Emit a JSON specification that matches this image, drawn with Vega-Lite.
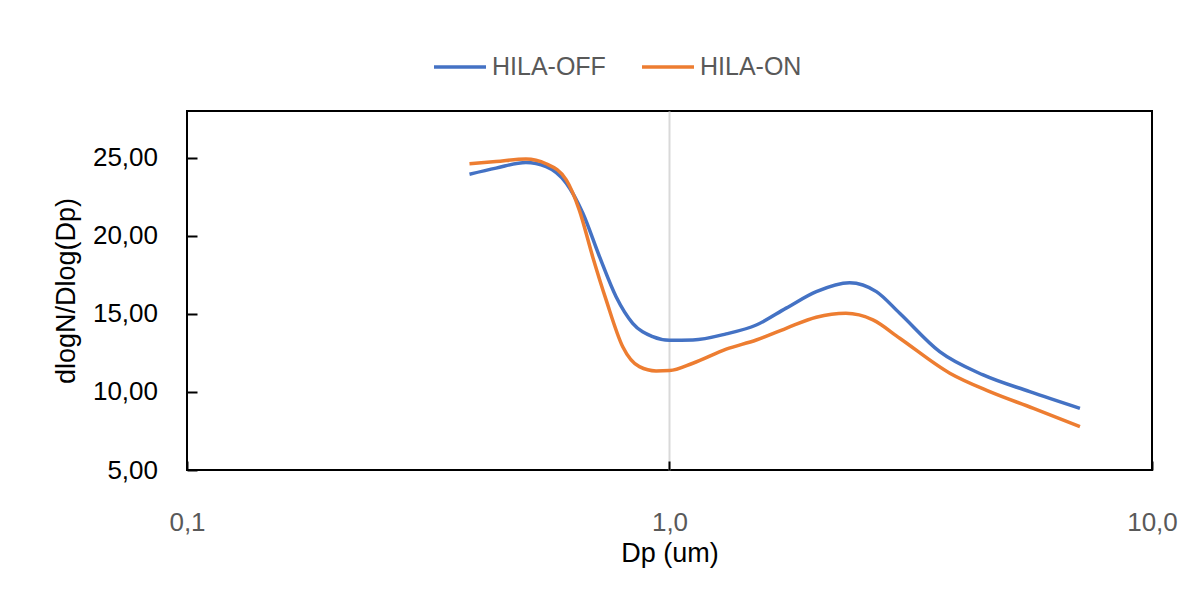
{
  "$schema": "https://vega.github.io/schema/vega-lite/v6.json",
  "autosize": {"type": "none"},
  "width": 965,
  "height": 359,
  "padding": {"left": 187, "top": 111, "right": 29, "bottom": 133},
  "background": "white",
  "config": {"view": {"stroke": "black", "strokeWidth": 2}, "font": "Liberation Sans"},
  "data": {"values": [
    {"series": "HILA-OFF", "dp": 0.385, "val": 23.95},
    {"series": "HILA-OFF", "dp": 0.437, "val": 24.34},
    {"series": "HILA-OFF", "dp": 0.504, "val": 24.70},
    {"series": "HILA-OFF", "dp": 0.555, "val": 24.44},
    {"series": "HILA-OFF", "dp": 0.611, "val": 23.38},
    {"series": "HILA-OFF", "dp": 0.661, "val": 21.46},
    {"series": "HILA-OFF", "dp": 0.716, "val": 18.67},
    {"series": "HILA-OFF", "dp": 0.775, "val": 16.10},
    {"series": "HILA-OFF", "dp": 0.839, "val": 14.40},
    {"series": "HILA-OFF", "dp": 0.923, "val": 13.54},
    {"series": "HILA-OFF", "dp": 1.0, "val": 13.31},
    {"series": "HILA-OFF", "dp": 1.118, "val": 13.33},
    {"series": "HILA-OFF", "dp": 1.311, "val": 13.72},
    {"series": "HILA-OFF", "dp": 1.513, "val": 14.29},
    {"series": "HILA-OFF", "dp": 1.745, "val": 15.37},
    {"series": "HILA-OFF", "dp": 2.015, "val": 16.43},
    {"series": "HILA-OFF", "dp": 2.362, "val": 17.00},
    {"series": "HILA-OFF", "dp": 2.684, "val": 16.43},
    {"series": "HILA-OFF", "dp": 3.0, "val": 15.04},
    {"series": "HILA-OFF", "dp": 3.63, "val": 12.58},
    {"series": "HILA-OFF", "dp": 4.467, "val": 11.09},
    {"series": "HILA-OFF", "dp": 5.58, "val": 10.02},
    {"series": "HILA-OFF", "dp": 7.09, "val": 8.95},
    {"series": "HILA-ON", "dp": 0.385, "val": 24.62},
    {"series": "HILA-ON", "dp": 0.437, "val": 24.76},
    {"series": "HILA-ON", "dp": 0.504, "val": 24.92},
    {"series": "HILA-ON", "dp": 0.555, "val": 24.62},
    {"series": "HILA-ON", "dp": 0.611, "val": 23.59},
    {"series": "HILA-ON", "dp": 0.650, "val": 21.67},
    {"series": "HILA-ON", "dp": 0.693, "val": 18.67},
    {"series": "HILA-ON", "dp": 0.739, "val": 15.90},
    {"series": "HILA-ON", "dp": 0.800, "val": 12.90},
    {"series": "HILA-ON", "dp": 0.866, "val": 11.62},
    {"series": "HILA-ON", "dp": 0.938, "val": 11.35},
    {"series": "HILA-ON", "dp": 1.0, "val": 11.37},
    {"series": "HILA-ON", "dp": 1.118, "val": 11.84},
    {"series": "HILA-ON", "dp": 1.311, "val": 12.74},
    {"series": "HILA-ON", "dp": 1.513, "val": 13.33},
    {"series": "HILA-ON", "dp": 1.745, "val": 14.08},
    {"series": "HILA-ON", "dp": 2.015, "val": 14.79},
    {"series": "HILA-ON", "dp": 2.32, "val": 15.04},
    {"series": "HILA-ON", "dp": 2.64, "val": 14.62},
    {"series": "HILA-ON", "dp": 3.0, "val": 13.44},
    {"series": "HILA-ON", "dp": 3.81, "val": 11.20},
    {"series": "HILA-ON", "dp": 4.61, "val": 10.02},
    {"series": "HILA-ON", "dp": 5.68, "val": 8.95},
    {"series": "HILA-ON", "dp": 7.09, "val": 7.78}
  ]},
  "mark": {"type": "line", "interpolate": "monotone", "strokeWidth": 3.5},
  "encoding": {
    "x": {
      "field": "dp", "type": "quantitative",
      "scale": {"type": "log", "domain": [0.1, 10]},
      "axis": {
        "title": "Dp (um)",
        "values": [0.1, 1, 10],
        "labelExpr": "replace(format(datum.value, '.1f'), '.', ',')",
        "grid": true,
        "gridColor": {"condition": {"test": "datum.value == 1", "value": "#d9d9d9"}, "value": "transparent"},
        "gridWidth": 2,
        "domain": false,
        "tickSize": -9, "tickColor": "black", "tickWidth": 2,
        "labelPadding": 48, "labelFontSize": 26, "labelColor": "#595959", "labelFlush": false,
        "titleFontSize": 27, "titleFontWeight": "normal", "titleColor": "black", "titlePadding": 5
      }
    },
    "y": {
      "field": "val", "type": "quantitative",
      "scale": {"domain": [5, 28]},
      "axis": {
        "title": "dlogN/Dlog(Dp)",
        "values": [5, 10, 15, 20, 25],
        "labelExpr": "replace(format(datum.value, '.2f'), '.', ',')",
        "grid": false,
        "domain": false,
        "tickSize": -10, "tickColor": "black", "tickWidth": 2,
        "labelPadding": 39.5, "labelFontSize": 26, "labelColor": "black",
        "titleFontSize": 27, "titleFontWeight": "normal", "titleColor": "black", "titlePadding": 12
      }
    },
    "color": {
      "field": "series", "type": "nominal",
      "scale": {"domain": ["HILA-OFF", "HILA-ON"], "range": ["#4472C4", "#ED7D31"]},
      "legend": {
        "title": null, "orient": "none", "legendX": 245, "legendY": -72,
        "direction": "horizontal", "symbolType": "stroke", "symbolSize": 2704,
        "symbolStrokeWidth": 3.5, "labelFontSize": 25, "labelColor": "#595959",
        "columnPadding": 29, "labelOffset": 4, "padding": 0
      }
    }
  }
}
